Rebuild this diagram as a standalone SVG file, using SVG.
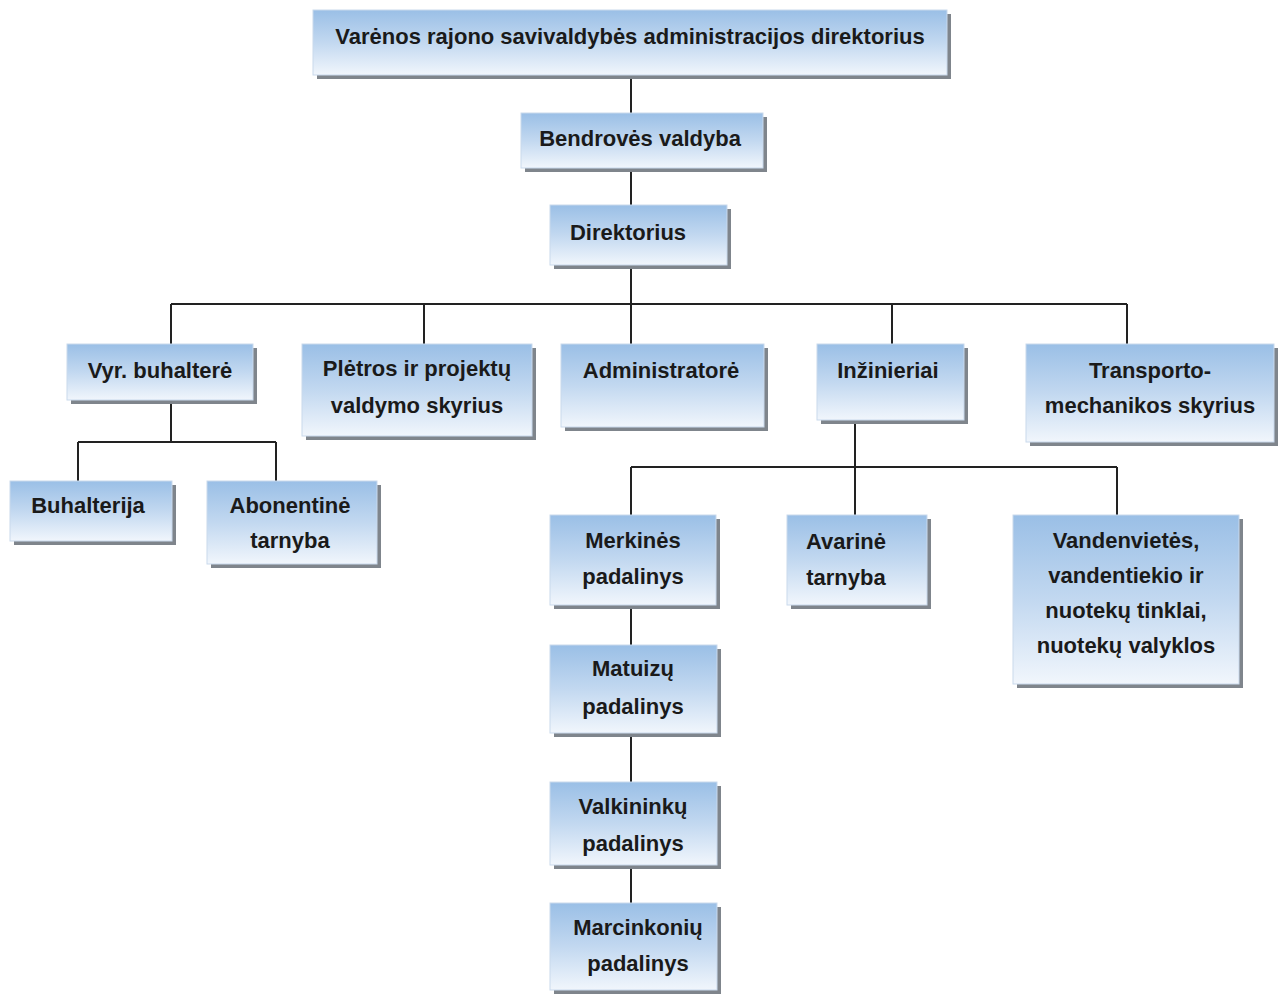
<svg xmlns="http://www.w3.org/2000/svg" width="1284" height="994" viewBox="0 0 1284 994">
<defs>
<linearGradient id="g" x1="0" y1="0" x2="0" y2="1">
<stop offset="0" stop-color="#9abfe6"/>
<stop offset="0.5" stop-color="#c2d8f0"/>
<stop offset="1" stop-color="#f1f6fc"/>
</linearGradient>
</defs>
<style>
.sh{fill:#7f858c}
.bx{fill:url(#g);stroke:#c9d9ec;stroke-width:1}
.t{font-family:"Liberation Sans",Arial,sans-serif;font-weight:bold;font-size:22px;fill:#1a1a1a;text-anchor:middle}
.c{stroke:#222;stroke-width:2;fill:none}
</style>
<rect width="1284" height="994" fill="#fff"/>
<g id="connectors">
<path class="c" d="M631 75V113M631 168V205M631 265V304M171 304H1127M171 304V344M424 304V344M631 304V344M892 304V344M1127 304V344"/>
<path class="c" d="M171 400V442M78 442H276M78 442V481M276 442V481"/>
<path class="c" d="M855 420V467M631 467H1117M631 467V515M855 467V515M1117 467V515"/>
<path class="c" d="M631 605V645M631 733V782M631 865V903"/>
</g>
<g id="n1"><rect class="sh" x="317" y="14" width="634" height="65"/><rect class="bx" x="313" y="10" width="634" height="65"/><text class="t" x="630" y="44">Varėnos rajono savivaldybės administracijos direktorius</text></g>
<g id="n2"><rect class="sh" x="525" y="117" width="242" height="55"/><rect class="bx" x="521" y="113" width="242" height="55"/><text class="t" x="640" y="146">Bendrovės valdyba</text></g>
<g id="n3"><rect class="sh" x="554" y="209" width="177" height="60"/><rect class="bx" x="550" y="205" width="177" height="60"/><text class="t" x="628" y="240">Direktorius</text></g>
<g id="n4"><rect class="sh" x="71" y="348" width="186" height="56"/><rect class="bx" x="67" y="344" width="186" height="56"/><text class="t" x="160" y="378">Vyr. buhalterė</text></g>
<g id="n5"><rect class="sh" x="306" y="348" width="230" height="92"/><rect class="bx" x="302" y="344" width="230" height="92"/><text class="t" x="417" y="376">Plėtros ir projektų</text><text class="t" x="417" y="413">valdymo skyrius</text></g>
<g id="n6"><rect class="sh" x="565" y="348" width="203" height="83"/><rect class="bx" x="561" y="344" width="203" height="83"/><text class="t" x="661" y="378">Administratorė</text></g>
<g id="n7"><rect class="sh" x="821" y="348" width="147" height="76"/><rect class="bx" x="817" y="344" width="147" height="76"/><text class="t" x="888" y="378">Inžinieriai</text></g>
<g id="n8"><rect class="sh" x="1030" y="348" width="248" height="98"/><rect class="bx" x="1026" y="344" width="248" height="98"/><text class="t" x="1150" y="378">Transporto-</text><text class="t" x="1150" y="413">mechanikos skyrius</text></g>
<g id="n9"><rect class="sh" x="14" y="485" width="162" height="60"/><rect class="bx" x="10" y="481" width="162" height="60"/><text class="t" x="88" y="513">Buhalterija</text></g>
<g id="n10"><rect class="sh" x="211" y="485" width="170" height="83"/><rect class="bx" x="207" y="481" width="170" height="83"/><text class="t" x="290" y="513">Abonentinė</text><text class="t" x="290" y="548">tarnyba</text></g>
<g id="n11"><rect class="sh" x="554" y="519" width="166" height="90"/><rect class="bx" x="550" y="515" width="166" height="90"/><text class="t" x="633" y="548">Merkinės</text><text class="t" x="633" y="584">padalinys</text></g>
<g id="n12"><rect class="sh" x="791" y="519" width="140" height="90"/><rect class="bx" x="787" y="515" width="140" height="90"/><text class="t" x="846" y="549">Avarinė</text><text class="t" x="846" y="585">tarnyba</text></g>
<g id="n13"><rect class="sh" x="1017" y="519" width="226" height="169"/><rect class="bx" x="1013" y="515" width="226" height="169"/><text class="t" x="1126" y="548">Vandenvietės,</text><text class="t" x="1126" y="583">vandentiekio ir</text><text class="t" x="1126" y="618">nuotekų tinklai,</text><text class="t" x="1126" y="653">nuotekų valyklos</text></g>
<g id="n14"><rect class="sh" x="554" y="649" width="167" height="88"/><rect class="bx" x="550" y="645" width="167" height="88"/><text class="t" x="633" y="676">Matuizų</text><text class="t" x="633" y="714">padalinys</text></g>
<g id="n15"><rect class="sh" x="554" y="786" width="167" height="83"/><rect class="bx" x="550" y="782" width="167" height="83"/><text class="t" x="633" y="814">Valkininkų</text><text class="t" x="633" y="851">padalinys</text></g>
<g id="n16"><rect class="sh" x="554" y="907" width="167" height="87"/><rect class="bx" x="550" y="903" width="167" height="87"/><text class="t" x="638" y="935">Marcinkonių</text><text class="t" x="638" y="971">padalinys</text></g>
</svg>
